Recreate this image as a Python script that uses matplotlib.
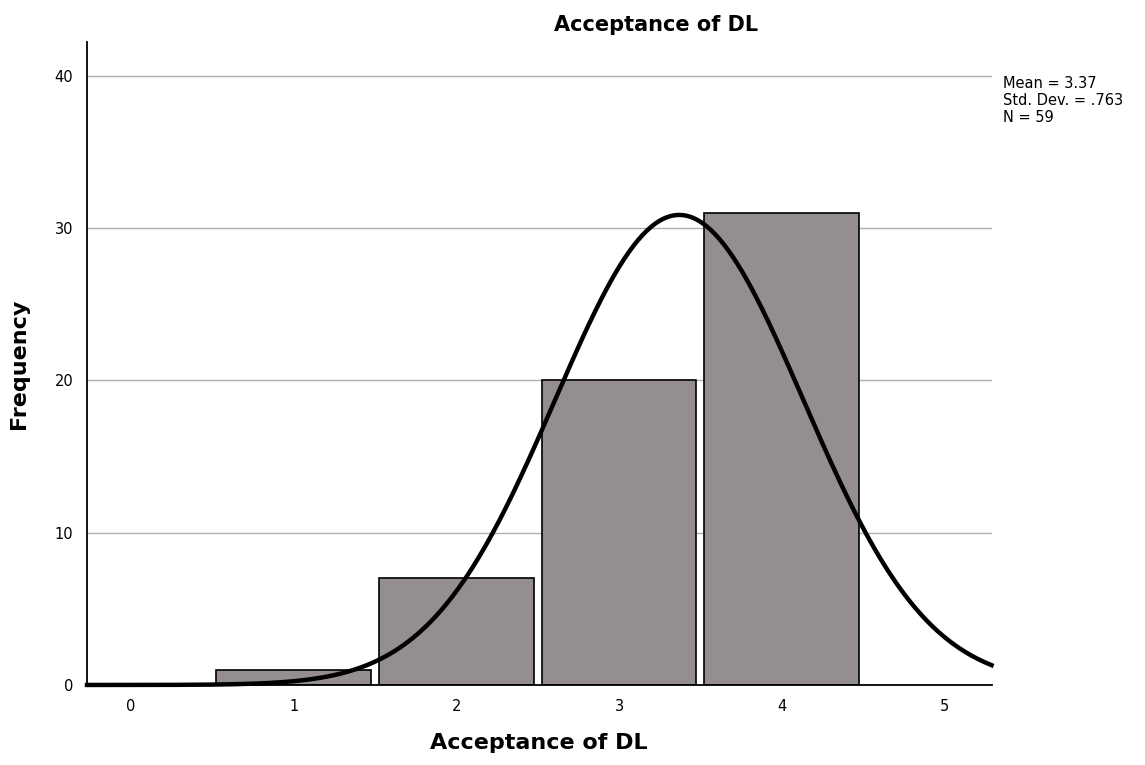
import numpy as np
import matplotlib.pyplot as plt

# histogram data
values = [1, 2, 3, 4]
counts = [1, 7, 20, 31]
mean = 3.37
std_dev = 0.763
n_total = 59
x_ticks = [0, 1, 2, 3, 4, 5]
y_ticks = [0, 10, 20, 30, 40]

fig = plt.figure(figsize=(11.45, 7.65), dpi=100)
ax = fig.add_axes([0.076, 0.1046, 0.79, 0.8405])

ax.bar(values, counts, width=0.95, color='#948f8e', edgecolor='black',
       linewidth=1.2, zorder=2)

# normal curve scaled to counts (bin width 1)
xs = np.linspace(-0.27, 5.29, 400)
ys = n_total / (std_dev * np.sqrt(2 * np.pi)) * np.exp(-0.5 * ((xs - mean) / std_dev) ** 2)
ax.plot(xs, ys, color='black', linewidth=3.2, zorder=3, clip_on=False)

ax.set_xlim(-0.27, 5.29)
ax.set_ylim(0, 42.2)
ax.set_xticks(x_ticks)
ax.set_yticks(y_ticks)
ax.tick_params(length=0, labelsize=10.5, pad=10)
ax.yaxis.grid(True, color='#b0b0b0', linewidth=1, zorder=0)
ax.set_axisbelow(True)

for side in ['top', 'right']:
    ax.spines[side].set_visible(False)
for side in ['left', 'bottom']:
    ax.spines[side].set_linewidth(1.3)

ax.set_title('Acceptance of DL', fontsize=15, fontweight='bold', pad=8, x=0.629)
ax.set_xlabel('Acceptance of DL', fontsize=16, fontweight='bold', labelpad=14)
ax.set_ylabel('Frequency', fontsize=16, fontweight='bold', labelpad=18)

fig.text(0.876, 0.9, 'Mean = 3.37\nStd. Dev. = .763\nN = 59', fontsize=10.5,
         va='top', ha='left', linespacing=1.15)

fig.savefig('out.png', dpi=100)
